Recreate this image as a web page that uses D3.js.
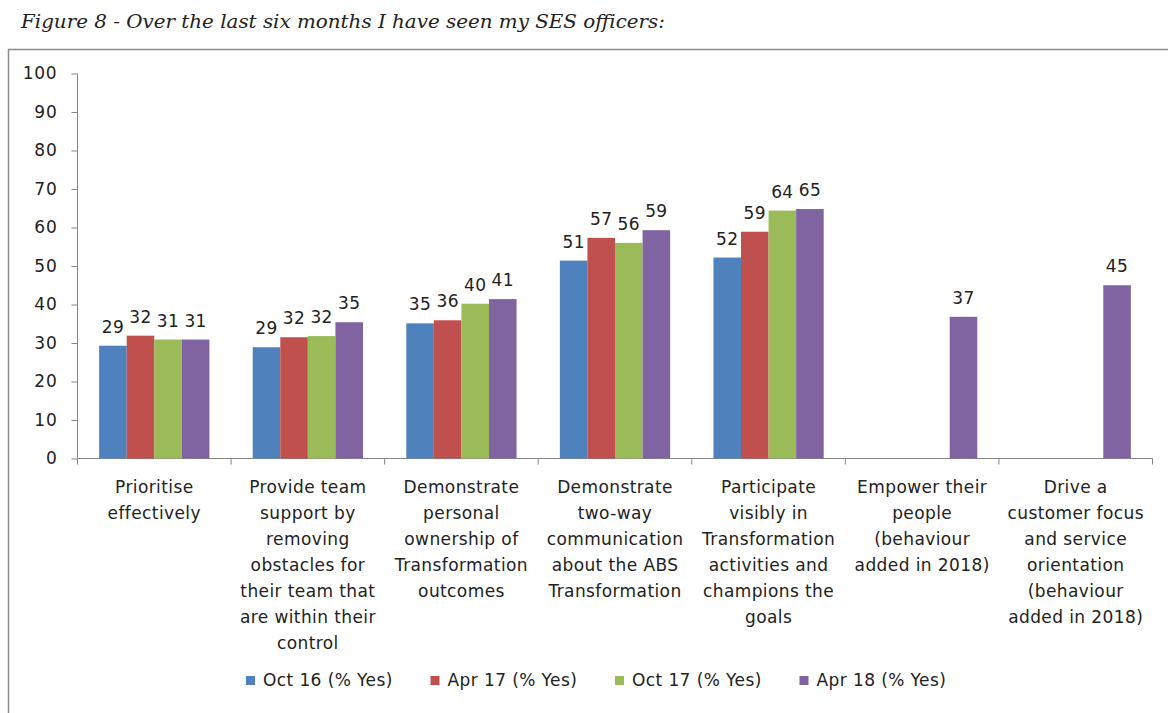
<!DOCTYPE html>
<html>
<head>
<meta charset="utf-8">
<script src="https://cdn.jsdelivr.net/npm/d3@7"></script>
<style>
  body { margin: 0; background: #fff; }
  svg { display: block; }
  text { font-family: "DejaVu Sans", Verdana, sans-serif; fill: #222; }
  .axis path, .axis line { stroke: #868686; }
  .axis text { font-size: 17px; letter-spacing: 0.8px; fill: #222; }
</style>
</head>
<body>
<svg width="1168" height="713"></svg>
<script>
var svg = d3.select("svg");

// Data
var categories = [
    ["Prioritise", "effectively"],
    ["Provide team", "support by", "removing", "obstacles for", "their team that", "are within their", "control"],
    ["Demonstrate", "personal", "ownership of", "Transformation", "outcomes"],
    ["Demonstrate", "two-way", "communication", "about the ABS", "Transformation"],
    ["Participate", "visibly in", "Transformation", "activities and", "champions the", "goals"],
    ["Empower their", "people", "(behaviour", "added in 2018)"],
    ["Drive a", "customer focus", "and service", "orientation", "(behaviour", "added in 2018)"]
];
var seriesNames = ["Oct 16 (% Yes)", "Apr 17 (% Yes)", "Oct 17 (% Yes)", "Apr 18 (% Yes)"];
var oct16 = [29.3, 28.9, 35.1, 51.4, 52.2, null, null];
var apr17 = [31.9, 31.5, 35.9, 57.3, 58.9, null, null];
var oct17 = [30.9, 31.8, 40.2, 56.0, 64.4, null, null];
var apr18 = [30.9, 35.4, 41.4, 59.3, 64.8, 36.8, 45.0];
var yTicks = [0, 10, 20, 30, 40, 50, 60, 70, 80, 90, 100];

var colors = ["#4F81BD", "#C0504D", "#9BBB59", "#8064A2"];
var allSeries = [oct16, apr17, oct17, apr18];

// Title
svg.append("text")
    .attr("x", 21)
    .attr("y", 28)
    .attr("textLength", 644)
    .attr("lengthAdjust", "spacingAndGlyphs")
    .style("font-family", "'DejaVu Serif', 'Liberation Serif', serif")
    .style("font-style", "italic")
    .style("font-size", "18.5px")
    .text("Figure 8 - Over the last six months I have seen my SES officers:");

// Chart frame
svg.append("rect")
    .attr("x", 8.5)
    .attr("y", 49.5)
    .attr("width", 1180)
    .attr("height", 700)
    .attr("fill", "none")
    .attr("stroke", "#8c8c8c")
    .attr("stroke-width", 1.5);

// Scales
var catIdx = d3.range(categories.length);
var x0 = d3.scaleBand()
    .domain(catIdx)
    .range([77.5, 1152.5]);

var groupPad = x0.bandwidth() * 0.141;
var x1 = d3.scaleBand()
    .domain(d3.range(seriesNames.length))
    .range([groupPad, x0.bandwidth() - groupPad]);

var y = d3.scaleLinear()
    .domain([0, 100])
    .range([458.5, 73.5]);

// Y axis
svg.append("g")
    .attr("class", "axis")
    .attr("transform", "translate(77.5,0)")
    .call(d3.axisLeft(y).tickValues(yTicks).tickSize(6).tickPadding(14).tickSizeOuter(0))
    .call(function(g) { g.select(".domain").attr("d", "M0," + y(100) + "V" + y(0)); });

// X axis line with boundary ticks
var xAxis = svg.append("g").attr("class", "axis");
xAxis.append("line")
    .attr("x1", 77.5).attr("x2", 1152.5)
    .attr("y1", y(0)).attr("y2", y(0));
xAxis.selectAll(".xtick")
    .data(d3.range(categories.length + 1))
    .enter()
    .append("line")
    .attr("class", "xtick")
    .attr("x1", function(i) { return i < categories.length ? x0(i) : x0(i - 1) + x0.bandwidth(); })
    .attr("x2", function(i) { return i < categories.length ? x0(i) : x0(i - 1) + x0.bandwidth(); })
    .attr("y1", y(0))
    .attr("y2", y(0) + 6);

// Bars
var flat = [];
allSeries.forEach(function(s, si) {
    s.forEach(function(v, ci) {
        if (v !== null) flat.push({ s: si, c: ci, v: v });
    });
});

svg.selectAll(".bar")
    .data(flat)
    .enter()
    .append("rect")
    .attr("class", "bar")
    .attr("x", function(d) { return x0(d.c) + x1(d.s); })
    .attr("y", function(d) { return y(d.v); })
    .attr("width", x1.bandwidth())
    .attr("height", function(d) { return y(0) - y(d.v); })
    .style("fill", function(d) { return colors[d.s]; });

// Data labels
var fmt = d3.format(".0f");
svg.selectAll(".dlabel")
    .data(flat)
    .enter()
    .append("text")
    .attr("class", "dlabel")
    .attr("text-anchor", "middle")
    .attr("x", function(d) { return x0(d.c) + x1(d.s) + x1.bandwidth() / 2; })
    .attr("y", function(d) { return y(d.v) - 13; })
    .style("font-size", "17px")
    .style("letter-spacing", "0.4px")
    .text(function(d) { return fmt(d.v); });

// Category labels
var catLabels = svg.selectAll(".cat")
    .data(categories)
    .enter()
    .append("text")
    .attr("class", "cat")
    .attr("text-anchor", "middle")
    .style("font-size", "17px")
    .style("letter-spacing", "0.4px");

catLabels.selectAll("tspan")
    .data(function(d, i) { return d.map(function(t) { return { t: t, c: i }; }); })
    .enter()
    .append("tspan")
    .attr("x", function(d) { return x0(d.c) + x0.bandwidth() / 2; })
    .attr("y", function(d, j) { return 493 + j * 26; })
    .text(function(d) { return d.t; });

// Legend
var legend = svg.selectAll(".legend")
    .data(seriesNames)
    .enter()
    .append("g")
    .attr("class", "legend")
    .attr("transform", function(d, i) { return "translate(" + (246 + i * 184.5) + ",0)"; });

legend.append("rect")
    .attr("x", 0)
    .attr("y", 676)
    .attr("width", 9)
    .attr("height", 9)
    .style("fill", function(d, i) { return colors[i]; });

legend.append("text")
    .attr("x", 17)
    .attr("y", 686)
    .style("font-size", "17px")
    .style("letter-spacing", "0.4px")
    .text(function(d) { return d; });
</script>
</body>
</html>
